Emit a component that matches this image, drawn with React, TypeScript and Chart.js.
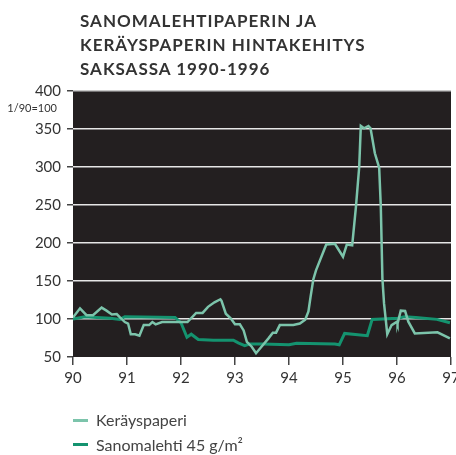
import React, { useEffect, useRef } from "react";
import { Chart, registerables } from "chart.js";

Chart.register(...registerables);

const titleLines = ["SANOMALEHTIPAPERIN JA", "KERÄYSPAPERIN HINTAKEHITYS", "SAKSASSA 1990-1996"];
const unitNote = "1/90=100";
const seriesNames = ["Keräyspaperi", "Sanomalehti 45 g/m²"];

const yearTicks = [1990, 1991, 1992, 1993, 1994, 1995, 1996, 1997];

const keraysT = [
  1990.0, 1990.13, 1990.25, 1990.37, 1990.53, 1990.62, 1990.72, 1990.81, 1990.87, 1990.96,
  1991.02, 1991.07, 1991.15, 1991.23, 1991.31, 1991.41, 1991.47, 1991.53, 1991.65, 1991.86,
  1992.0, 1992.12, 1992.28, 1992.4, 1992.5, 1992.62, 1992.73, 1992.75, 1992.83, 1992.92,
  1993.0, 1993.09, 1993.16, 1993.22, 1993.31, 1993.39, 1993.49, 1993.62, 1993.7, 1993.76,
  1993.83, 1994.08, 1994.2, 1994.3, 1994.36, 1994.4, 1994.45, 1994.5, 1994.69, 1994.85,
  1995.0, 1995.07, 1995.17, 1995.24, 1995.3, 1995.33, 1995.39, 1995.47, 1995.51, 1995.59,
  1995.67, 1995.7, 1995.73, 1995.76, 1995.82, 1995.9, 1996.0, 1996.01, 1996.07, 1996.15,
  1996.21, 1996.33, 1996.75, 1996.98,
];
const keraysV = [
  102, 114, 105, 105, 115, 111, 106, 106.5, 102, 96,
  94, 80, 80, 78, 92, 92, 96, 93, 96, 96,
  96, 96, 108, 108, 116, 122, 126, 124, 107, 101,
  93, 93, 85, 70, 63.5, 55, 63.5, 74.5, 82, 82,
  92, 92, 94, 99, 110, 129.5, 152, 164, 198, 199,
  182, 198, 197, 248, 300, 354, 351, 354, 351, 318,
  299, 248, 153, 120.5, 80, 92, 96.5, 94, 111, 110.5,
  96.5, 81, 82.5, 74.5,
];

const sanomaT = [
  1990.0, 1990.22, 1990.44, 1990.69, 1990.87, 1990.96, 1991.89, 1992.0, 1992.11, 1992.19,
  1992.32, 1992.6, 1992.97, 1993.06, 1993.18, 1993.27, 1993.51, 1994.0, 1994.14, 1994.85,
  1994.93, 1995.03, 1995.45, 1995.54, 1996.01, 1996.14, 1996.35, 1996.74, 1996.98,
];
const sanomaV = [
  100, 103, 102, 101, 99.5, 103, 102, 95, 76, 80,
  73, 72, 72, 68.5, 65, 67, 67, 66, 68, 67,
  66, 81, 78, 99.5, 101, 103, 102, 99.5, 95,
];

const FONT = "Lato, 'Open Sans', sans-serif";
const TEXT = "#333333";

const plotBg = {
  id: "plotBg",
  beforeDraw(chart: any) {
    const { ctx, chartArea } = chart;
    if (!chartArea) return;
    ctx.save();
    ctx.fillStyle = "#231f20";
    ctx.fillRect(chartArea.left, chartArea.top, chartArea.right - chartArea.left, chartArea.bottom - chartArea.top);
    ctx.restore();
  },
};

export default function App() {
  const ref = useRef<HTMLCanvasElement>(null);

  useEffect(() => {
    if (!ref.current) return;
    const chart = new Chart(ref.current, {
      type: "line",
      data: {
        datasets: [
          {
            label: seriesNames[0],
            data: keraysT.map((t, i) => ({ x: t, y: keraysV[i] })),
            borderColor: "#7cc4ab",
            borderWidth: 2.5,
            pointRadius: 0,
            tension: 0,
          },
          {
            label: seriesNames[1],
            data: sanomaT.map((t, i) => ({ x: t, y: sanomaV[i] })),
            borderColor: "#14936f",
            borderWidth: 3,
            pointRadius: 0,
            tension: 0,
          },
        ],
      },
      options: {
        responsive: false,
        animation: false,
        layout: { padding: { left: 0, top: 91, right: 29, bottom: 58 } },
        plugins: { legend: { display: false }, title: { display: false }, tooltip: { enabled: false } },
        scales: {
          x: {
            type: "linear",
            min: 1990,
            max: 1997,
            afterBuildTicks: (s: any) => {
              s.ticks = yearTicks.map((v) => ({ value: v }));
            },
            afterFit: (s: any) => {
              s.height = 40;
            },
            ticks: {
              color: TEXT,
              font: { family: FONT, size: 15 },
              padding: 4,
              maxRotation: 0,
              autoSkip: false,
              callback: (v: any) => String(v).slice(2),
            },
            grid: { drawOnChartArea: false, drawTicks: true, tickLength: 8, tickColor: "#444444", lineWidth: 1.5 },
            border: { display: false },
          },
          y: {
            type: "linear",
            min: 50,
            max: 400,
            afterFit: (s: any) => {
              s.width = 73;
            },
            ticks: {
              stepSize: 50,
              color: TEXT,
              font: { family: FONT, size: 15 },
              padding: 6,
            },
            grid: {
              color: (c: any) => (c.tick && c.tick.value === 50 ? "rgba(0,0,0,0)" : c.tick && c.tick.value === 400 ? "#c8c8c8" : "#e6e6e6"),
              lineWidth: 1.5,
              drawTicks: true,
              tickLength: 6,
              tickColor: "#444444",
            },
            border: { display: false },
          },
        },
      },
      plugins: [plotBg],
    });
    return () => chart.destroy();
  }, []);

  return (
    <div style={{ position: "absolute", left: 0, top: 0, width: 456, height: 455, overflow: "hidden", background: "#fff", fontFamily: FONT }}>
      <canvas ref={ref} width={480} height={455} style={{ position: "absolute", left: 0, top: 0, width: 480, height: 455 }} />
      <div style={{ position: "absolute", left: 80, top: 9, fontSize: 17, lineHeight: "24px", fontWeight: 700, color: "#333", letterSpacing: "1px", whiteSpace: "nowrap" }}>
        {titleLines.map((l, i) => (
          <div key={i}>{l}</div>
        ))}
      </div>
      <div style={{ position: "absolute", right: 456 - 57, top: 101, fontSize: 11, lineHeight: "14px", color: "#333", whiteSpace: "nowrap" }}>
        {unitNote}
      </div>
      {seriesNames.map((name, i) => (
        <div key={i} style={{ position: "absolute", left: 73, top: 408 + i * 24.5, height: 24, display: "flex", alignItems: "center", fontSize: 16, lineHeight: "24px", color: "#444", whiteSpace: "nowrap" }}>
          <span style={{ display: "inline-block", width: 15, height: 3, background: i === 0 ? "#7cc4ab" : "#14936f", marginRight: 8 }} />
          <span>{name}</span>
        </div>
      ))}
    </div>
  );
}
